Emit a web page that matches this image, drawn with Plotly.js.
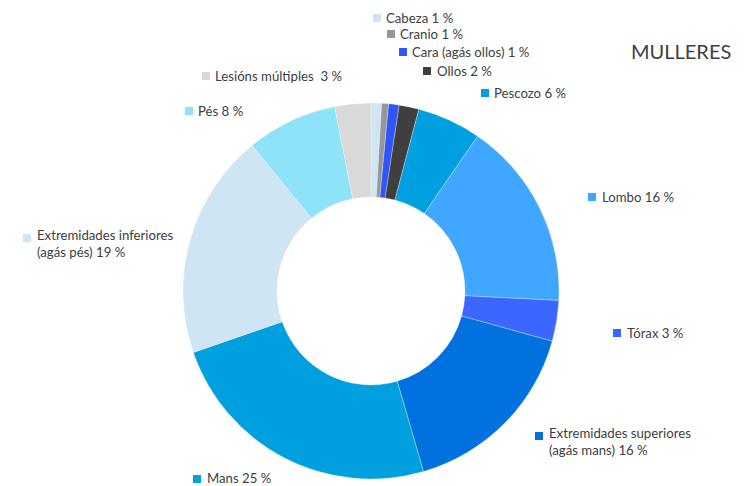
<!DOCTYPE html>
<html>
<head>
<meta charset="utf-8">
<script src="https://cdn.plot.ly/plotly-3.0.1.min.js"></script>
<style>html,body{margin:0;padding:0;background:#fff;}#chart{width:744px;height:486px;}</style>
</head>
<body>
<div id="chart"></div>
<script>
// ---- data ----
const categories = ["Cabeza", "Cranio", "Cara (agás ollos)", "Ollos", "Pescozo", "Lombo", "Tórax",
  "Extremidades superiores (agás mans)", "Mans", "Extremidades inferiores (agás pés)", "Pés", "Lesións múltiples"];
const displayNames = ["Cabeza", "Cranio", "Cara (agás ollos)", "Ollos", "Pescozo", "Lombo", "Tórax",
  "Extremidades superiores<br>(agás mans)", "Mans", "Extremidades inferiores<br>(agás pés)", "Pés", "Lesións múltiples "];
const values = [0.9, 0.6, 0.9, 1.7, 5.5, 16.2, 3.5, 16.2, 24.2, 19.4, 7.8, 3.1];
const pctLabels = [1, 1, 1, 2, 6, 16, 3, 16, 25, 19, 8, 3];
const colors = ["#CFE5F4", "#979797", "#3056FA", "#3F3F3F", "#009FDF", "#3FA7FF", "#3B66FF",
  "#0071DE", "#00A0DF", "#D0E5F4", "#8EE3F8", "#D9D9D9"];
const chartTitle = "MULLERES";

// ---- label placement (pixels: square x, text x, y centre) ----
const W = 744, H = 486;
const labelPos = [
  [373, 385, 18], [387, 399, 34], [399, 411, 52], [423, 436, 71], [481, 493, 93],
  [588, 601, 197], [613, 626, 333], [535, 548, 441], [193, 206, 478], [23, 36, 243],
  [185, 197, 111], [202, 214, 76]
];
const sqY = [18, 34, 52, 71, 93, 197, 333, 436, 479, 238, 111, 76];

const px = x => x / W;
const py = y => 1 - y / H;

const shapes = [], annotations = [];
categories.forEach((c, i) => {
  const [sx, tx, ty] = labelPos[i];
  shapes.push({type: "rect", xref: "paper", yref: "paper",
    x0: px(sx), x1: px(sx + 8), y0: py(sqY[i] + 4), y1: py(sqY[i] - 4),
    fillcolor: colors[i], line: {width: 0}});
  annotations.push({xref: "paper", yref: "paper", x: px(tx - 1), y: py(ty),
    xanchor: "left", yanchor: "middle", align: "left", showarrow: false,
    text: displayNames[i] + " " + pctLabels[i] + " %",
    font: {family: "Lato, 'Open Sans', sans-serif", size: 13.2, color: "#404040"}});
});

const cx = 371, cy = 291, r = 188;
const trace = {
  type: "pie", labels: categories, values: values, sort: false, direction: "clockwise",
  rotation: 0, hole: 0.5, textinfo: "none", hoverinfo: "label+percent",
  marker: {colors: colors, line: {color: "#ffffff", width: 0.3}},
  domain: {x: [px(cx - r), px(cx + r)], y: [py(cy + r), py(cy - r)]}
};

const layout = {
  width: W, height: H, margin: {l: 0, r: 0, t: 0, b: 0},
  paper_bgcolor: "#ffffff", showlegend: false,
  title: {text: chartTitle, x: px(631), xref: "paper", xanchor: "left", y: py(52), yref: "paper", yanchor: "middle",
    font: {family: "Lato, 'Open Sans', sans-serif", size: 20, color: "#404040"}},
  shapes: shapes, annotations: annotations
};

Plotly.newPlot("chart", [trace], layout, {displayModeBar: false, staticPlot: true});
</script>
</body>
</html>
